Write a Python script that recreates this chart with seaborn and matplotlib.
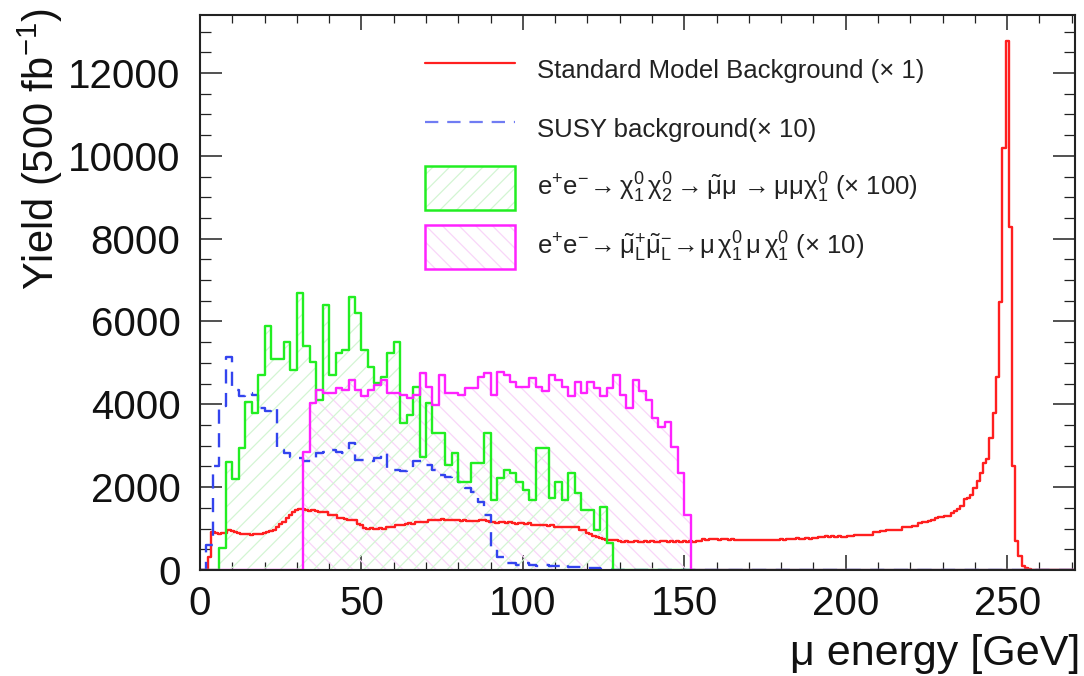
import numpy as np
import matplotlib
matplotlib.use("Agg")
import matplotlib.pyplot as plt
import seaborn as sns
from matplotlib.lines import Line2D
from matplotlib.patches import Patch
from matplotlib.ticker import MultipleLocator

# ---------------- data ----------------
# coarse binning (2 GeV) for SUSY samples, starting at 0 GeV
susy_bin_width = 2.0
# fine binning (1 GeV, centred on integers) for the SM background
sm_bin_width = 1.0
x_max = 272

sm_background = [
    0, 0, 0, 320, 920, 900, 860, 900, 890, 960,
    940, 920, 900, 880, 870, 860, 850, 860, 865, 880,
    890, 910, 930, 960, 1050, 1100, 1160, 1250, 1330, 1400,
    1450, 1470, 1470, 1440, 1430, 1450, 1420, 1400, 1410, 1400,
    1340, 1330, 1320, 1260, 1250, 1240, 1210, 1200, 1210, 1100,
    1080, 1020, 1000, 1010, 1000, 990, 1010, 1000, 1040, 1050,
    1040, 1080, 1090, 1080, 1120, 1130, 1120, 1160, 1170, 1160,
    1170, 1200, 1210, 1200, 1210, 1220, 1200, 1210, 1200, 1210,
    1200, 1190, 1200, 1180, 1190, 1190, 1180, 1200, 1210, 1190,
    1150, 1160, 1140, 1150, 1160, 1140, 1150, 1130, 1120, 1130,
    1130, 1120, 1130, 1090, 1080, 1090, 1080, 1090, 1070, 1080,
    1050, 1040, 1050, 1040, 1050, 1040, 1050, 1040, 970, 960,
    890, 880, 810, 800, 770, 760, 730, 720, 730, 720,
    690, 680, 690, 670, 680, 690, 680, 670, 690, 680,
    690, 680, 670, 690, 700, 680, 690, 680, 690, 680,
    690, 680, 690, 680, 690, 700, 740, 730, 745, 740,
    750, 735, 740, 745, 735, 740, 730, 725, 720, 735,
    720, 730, 725, 715, 730, 725, 735, 720, 730, 725,
    740, 730, 750, 760, 755, 765, 750, 760, 775, 750,
    765, 770, 790, 800, 810, 800, 815, 805, 810, 800,
    800, 815, 810, 835, 845, 840, 850, 845, 850, 910,
    920, 930, 935, 955, 965, 960, 975, 970, 1030, 1040,
    1050, 1060, 1070, 1140, 1160, 1170, 1180, 1200, 1260, 1280,
    1290, 1300, 1310, 1380, 1420, 1470, 1550, 1720, 1740, 1810,
    1980, 2160, 2330, 2590, 2670, 3190, 3790, 4660, 6470, 10180,
    12770, 8280, 2500, 690, 345, 100, 40, 20, 10, 5,
    0, 0, 0, 0, 0, 0, 0, 0, 0, 0, 0, 0,
]

susy_background = [
    0, 600, 2500, 3950, 5150, 4350, 4190, 4270, 4230, 3910,
    3850, 3900, 2900, 2820, 2740, 2700, 2620, 2620, 2820, 2860,
    2900, 2860, 2820, 3060, 2660, 2660, 2620, 2700, 2820, 2460,
    2420, 2380, 2420, 2620, 2620, 2540, 2420, 2300, 2250, 2370,
    2130, 1970, 1890, 1650, 1330, 560, 320, 160, 160, 120,
    170, 130, 100, 130, 100, 90, 110, 80, 70, 60,
    50, 40, 30, 20,
]

signal_neutralino = [
    0, 0, 0, 520, 2600, 2200, 2950, 4050, 3800, 4700,
    5900, 5100, 5100, 5500, 4830, 6700, 5400, 5030, 4100, 6400,
    4700, 5230, 5310, 6600, 6200, 5310, 4910, 4510, 4670, 5230,
    5510, 3540, 3740, 4430, 2740, 4030, 3300, 3300, 2540, 2820,
    2130, 2130, 2580, 2580, 3300, 1690, 2210, 2420, 2340, 2130,
    1930, 1690, 2940, 2940, 1730, 2130, 1690, 2340, 1850, 1450,
    1450, 970, 1530, 640,
]

signal_smuon = [
    0, 0, 0, 0, 0, 0, 0, 0, 0, 0,
    0, 0, 0, 0, 0, 0, 2860, 4030, 4350, 4270,
    4270, 4390, 4350, 4590, 4350, 4190, 4350, 4470, 4590, 4270,
    4270, 4230, 4150, 4230, 4750, 4430, 3990, 4710, 4270, 4270,
    4230, 4390, 4390, 4670, 4750, 4230, 4790, 4710, 4550, 4430,
    4430, 4630, 4430, 4310, 4710, 4590, 4430, 4190, 4550, 4270,
    4550, 4390, 4190, 4390, 4710, 4230, 3910, 4590, 4310, 4110,
    3660, 3460, 3580, 2980, 2340, 1330,
]

labels = [
    "Standard Model Background (× 1)",
    "SUSY background(× 10)",
    r"$e^{+}e^{-}\!\rightarrow\chi^{0}_{1}\,\chi^{0}_{2}\rightarrow\tilde{\mu}\mu\,\rightarrow\mu\mu\chi^{0}_{1}$ (× 100)",
    r"$e^{+}e^{-}\!\rightarrow\tilde{\mu}^{+}_{L}\tilde{\mu}^{-}_{L}\!\rightarrow\!\mu\,\chi^{0}_{1}\,\mu\,\chi^{0}_{1}$ (× 10)",
]
x_ticks = [0, 50, 100, 150, 200, 250]
y_ticks = [0, 2000, 4000, 6000, 8000, 10000, 12000]

# ---------------- style ----------------
sns.set_style("ticks")
plt.rcParams["font.family"] = ["Liberation Sans", "DejaVu Sans"]
plt.rcParams["mathtext.fontset"] = "custom"
plt.rcParams["mathtext.rm"] = "Liberation Sans"
plt.rcParams["mathtext.it"] = "Liberation Sans"
plt.rcParams["mathtext.bf"] = "Liberation Sans:bold"
plt.rcParams["mathtext.default"] = "regular"
plt.rcParams["hatch.linewidth"] = 0.9

RED = "#ff1f1f"
BLUE = "#3344ee"
GREEN = "#22ee22"
GREEN_HATCH = "#d3f5d3"
MAGENTA = "#ff22ff"
MAGENTA_HATCH = "#f9d6f9"
CLEAR = (1, 1, 1, 0)

# ---------------- binning helpers ----------------
n_coarse = int(x_max / susy_bin_width)
coarse_edges = (np.arange(n_coarse + 1) * susy_bin_width).tolist()
coarse_centres = [e + susy_bin_width / 2 for e in coarse_edges[:-1]]

fine_edges = (np.arange(len(sm_background) + 1) * sm_bin_width - sm_bin_width / 2).tolist()
fine_centres = [e + sm_bin_width / 2 for e in fine_edges[:-1]]


def pad(vals):
    return list(vals) + [0] * (n_coarse - len(vals))


def hist(values, centres, edges, **kws):
    sns.histplot(x=centres, weights=values, bins=edges, element="step", ax=ax, **kws)


fig = plt.figure(figsize=(10.84, 6.76), dpi=100)
ax = fig.add_axes([200 / 1084, 1 - 570 / 676, 875 / 1084, 555 / 676])

# hatched fills of the two signals
hist(pad(signal_smuon), coarse_centres, coarse_edges, fill=True, color=MAGENTA_HATCH,
     facecolor=CLEAR, edgecolor=MAGENTA_HATCH, linewidth=0, hatch="\\\\")
hist(pad(signal_neutralino), coarse_centres, coarse_edges, fill=True, color=GREEN_HATCH,
     facecolor=CLEAR, edgecolor=GREEN_HATCH, linewidth=0, hatch="//")

# outlines
hist(sm_background, fine_centres, fine_edges, fill=False, color=RED, linewidth=1.7)
hist(pad(susy_background), coarse_centres, coarse_edges, fill=False, color=BLUE,
     linewidth=1.7, linestyle=(0, (6, 4)))
hist(pad(signal_neutralino), coarse_centres, coarse_edges, fill=False, color=GREEN, linewidth=1.7)
hist(pad(signal_smuon), coarse_centres, coarse_edges, fill=False, color=MAGENTA, linewidth=1.7)

ax.set_xlim(0, 271)
ax.set_ylim(0, 13400)

ax.set_xticks(x_ticks)
ax.set_yticks(y_ticks)
ax.xaxis.set_minor_locator(MultipleLocator(10))
ax.yaxis.set_minor_locator(MultipleLocator(500))
ax.tick_params(axis="both", which="both", direction="in", top=True, right=True,
               colors="#222222", labelcolor="#111111")
ax.tick_params(axis="x", which="major", length=11, width=1.1, labelsize=29, pad=11)
ax.tick_params(axis="x", which="minor", length=5.5, width=0.9)
ax.tick_params(axis="y", which="major", length=16, width=1.1, labelsize=29, pad=14)
ax.tick_params(axis="y", which="minor", length=8, width=0.9)
for s in ax.spines.values():
    s.set_linewidth(1.5)
    s.set_color("#222222")

ax.set_ylabel("Yield (500 fb$^{-1}$)", fontsize=30, loc="top", color="#111111")
ax.yaxis.set_label_coords(-0.154, 1.012)
ax.set_xlabel("μ energy [GeV]", fontsize=31, loc="right", color="#111111")
ax.xaxis.set_label_coords(1.006, -0.115)

# legend
h_sm = Line2D([], [], color=RED, lw=1.6)
h_bg = Line2D([], [], color=BLUE, lw=1.6, ls=(0, (6, 4)), alpha=0.7)
h_g = (Patch(facecolor=CLEAR, edgecolor=GREEN_HATCH, hatch="//", lw=0),
       Patch(facecolor=CLEAR, edgecolor=GREEN, lw=1.8))
h_m = (Patch(facecolor=CLEAR, edgecolor=MAGENTA_HATCH, hatch="\\\\", lw=0),
       Patch(facecolor=CLEAR, edgecolor=MAGENTA, lw=1.8))
leg = ax.legend([h_sm, h_bg, h_g, h_m], labels, loc="upper left",
                bbox_to_anchor=(0.257, 0.9405), frameon=False, fontsize=18.5,
                handlelength=3.5, handleheight=2.26, handletextpad=0.85,
                labelspacing=0.58, borderpad=0, borderaxespad=0)
for t in leg.get_texts():
    t.set_color("#222222")

fig.savefig("out.png", dpi=100)
